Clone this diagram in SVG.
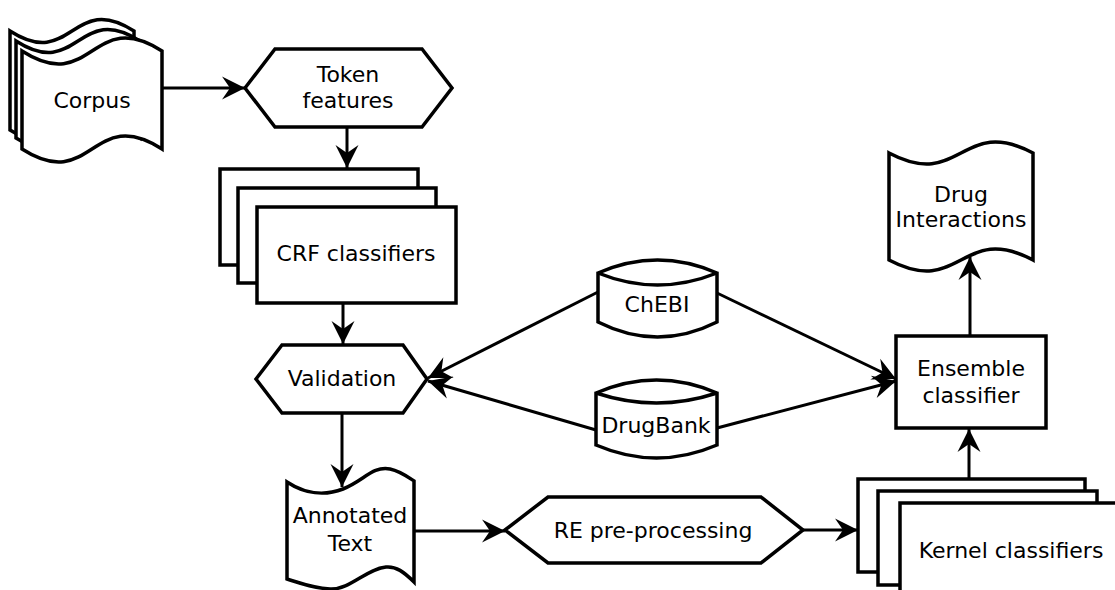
<svg xmlns="http://www.w3.org/2000/svg" width="1115" height="590" viewBox="0 0 1115 590">
  <style>
    .shape { fill: #ffffff; stroke: #000000; stroke-width: 3.5; stroke-linejoin: miter; }
    .lbl { font-family: "DejaVu Sans", "Liberation Sans", sans-serif; font-size: 22px; fill: #000000; text-anchor: middle; }
    .conn { fill: none; stroke: #000000; stroke-width: 3; }
  </style>
  <defs>
    <marker id="ah" markerUnits="userSpaceOnUse" markerWidth="30" markerHeight="30" viewBox="-25 -15 30 30" refX="0" refY="0" orient="auto">
      <path d="M0,0 L-23,-11.5 L-15,0 L-23,11.5 Z" fill="#000000"/>
    </marker>
  </defs>
  <rect width="1115" height="590" fill="#ffffff"/>

  <g id="corpus">
    <path class="shape" d="M10,31 C72,71 72,-9 134,31 L134,130 C72,90 72,170 10,130 Z"/>
    <path class="shape" d="M16,41 C78,81 78,1 140,41 L140,138 C78,98 78,178 16,138 Z"/>
    <path class="shape" d="M22,51 C92,96 92,6 162,51 L162,149 C92,104 92,194 22,149 Z"/>
    <text class="lbl" x="92" y="108">Corpus</text>
  </g>

  <g id="token-features">
    <polygon class="shape" points="245,88 275,49 422,49 452,88 422,127 275,127"/>
    <text class="lbl" x="348" y="82">Token</text>
    <text class="lbl" x="348" y="108">features</text>
  </g>

  <g id="crf-classifiers">
    <rect class="shape" x="220" y="169" width="198" height="96"/>
    <rect class="shape" x="238" y="188" width="198" height="95"/>
    <rect class="shape" x="257" y="207" width="199" height="96"/>
    <text class="lbl" x="356" y="261">CRF classifiers</text>
  </g>

  <g id="validation">
    <polygon class="shape" points="256,379 282,345 403,345 427,379 403,413 282,413"/>
    <text class="lbl" x="342" y="386">Validation</text>
  </g>

  <g id="annotated-text">
    <path class="shape" d="M287,482 C305,494 325,496 343,489 C365,480 372,466 390,469 C400,471 408,477 414,481 L414,582 C404,572 396,566 386,567 C366,569 350,590 330,589 C312,588 300,583 287,579 Z"/>
    <text class="lbl" x="350" y="523">Annotated</text>
    <text class="lbl" x="350" y="551">Text</text>
  </g>

  <g id="re-preprocessing">
    <polygon class="shape" points="505,530 548,497 761,497 803,530 761,563 548,563"/>
    <text class="lbl" x="653" y="538">RE pre-processing</text>
  </g>

  <g id="kernel-classifiers">
    <rect class="shape" x="858" y="479" width="227" height="93"/>
    <rect class="shape" x="878" y="491" width="219" height="94"/>
    <rect class="shape" x="900" y="503" width="225" height="100"/>
    <text class="lbl" x="1011" y="558">Kernel classifiers</text>
  </g>

  <g id="chebi">
    <path class="shape" d="M598,273 Q657.5,247 717,273 L717,322 Q657.5,352 598,322 Z"/>
    <path class="shape" fill="none" d="M598,273 Q657.5,297 717,273"/>
    <text class="lbl" x="657" y="312">ChEBI</text>
  </g>

  <g id="drugbank">
    <path class="shape" d="M596,393 Q656.5,367 717,393 L717,445 Q656.5,471 596,445 Z"/>
    <path class="shape" fill="none" d="M596,393 Q656.5,413 717,393"/>
    <text class="lbl" x="656" y="433">DrugBank</text>
  </g>

  <g id="ensemble-classifier">
    <rect class="shape" x="896" y="336" width="150" height="92"/>
    <text class="lbl" x="971" y="376">Ensemble</text>
    <text class="lbl" x="971" y="403">classifier</text>
  </g>

  <g id="drug-interactions">
    <path class="shape" d="M889,153 C961,191 961,115 1033,153 L1033,260 C961,222 961,298 889,260 Z"/>
    <text class="lbl" x="961" y="202">Drug</text>
    <text class="lbl" x="961" y="227">Interactions</text>
  </g>

  <g id="connectors">
    <line class="conn" x1="162" y1="88" x2="245" y2="88" marker-end="url(#ah)"/>
    <line class="conn" x1="347" y1="127" x2="347" y2="168" marker-end="url(#ah)"/>
    <line class="conn" x1="343" y1="303" x2="343" y2="344" marker-end="url(#ah)"/>
    <line class="conn" x1="342" y1="413" x2="342" y2="487" marker-end="url(#ah)"/>
    <line class="conn" x1="414" y1="531" x2="505" y2="531" marker-end="url(#ah)"/>
    <line class="conn" x1="803" y1="530" x2="858" y2="530" marker-end="url(#ah)"/>
    <line class="conn" x1="969" y1="479" x2="969" y2="429" marker-end="url(#ah)"/>
    <line class="conn" x1="970" y1="336" x2="970" y2="257" marker-end="url(#ah)"/>
    <line class="conn" x1="598" y1="292" x2="428" y2="378" marker-end="url(#ah)"/>
    <line class="conn" x1="596" y1="430" x2="428" y2="381" marker-end="url(#ah)"/>
    <line class="conn" x1="717" y1="293" x2="896" y2="379" marker-end="url(#ah)"/>
    <line class="conn" x1="717" y1="428" x2="896" y2="381" marker-end="url(#ah)"/>
  </g>
</svg>
